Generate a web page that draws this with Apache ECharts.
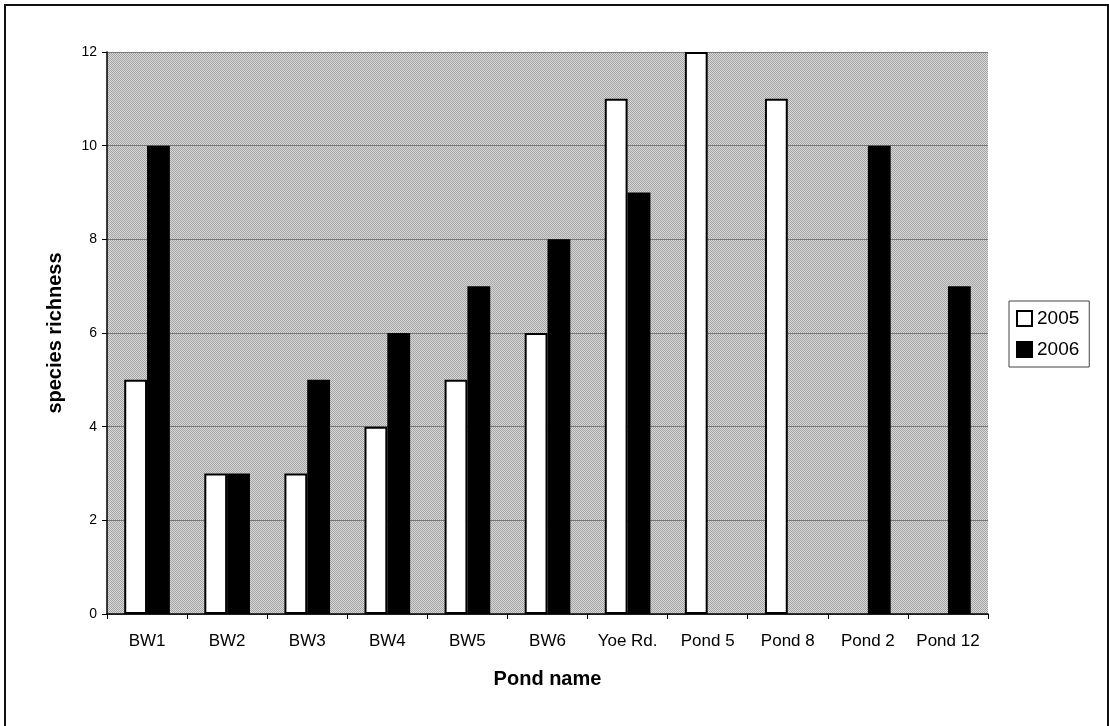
<!DOCTYPE html>
<html>
<head>
<meta charset="utf-8">
<script src="https://cdn.jsdelivr.net/npm/echarts@6/dist/echarts.min.js"></script>
<style>
  html, body { margin: 0; padding: 0; background: #fff; }
  #chart { width: 1109px; height: 726px; }
</style>
</head>
<body>
<div id="chart"></div>
<script>
// Pond names along the x axis
var ponds = ['BW1', 'BW2', 'BW3', 'BW4', 'BW5', 'BW6', 'Yoe Rd.', 'Pond 5', 'Pond 8', 'Pond 2', 'Pond 12'];
// Species richness per pond and survey year (null = not surveyed)
var richness2005 = [5, 3, 3, 4, 5, 6, 11, 12, 11, null, null];
var richness2006 = [10, 3, 5, 6, 7, 8, 9, null, null, 10, 7];
var yTicks = { min: 0, max: 12, step: 2 };

// Dotted grey fill for the plot area
function dottedFill() {
  var c = document.createElement('canvas');
  c.width = 2; c.height = 2;
  var ctx = c.getContext('2d');
  ctx.fillStyle = '#d8d8d8'; ctx.fillRect(0, 0, 2, 2);
  ctx.fillStyle = '#a4a4a4'; ctx.fillRect(0, 0, 1, 1); ctx.fillRect(1, 1, 1, 1);
  return { image: c, repeat: 'repeat' };
}

var chart = echarts.init(document.getElementById('chart'), null, { renderer: 'canvas' });
var font = 'Arial, "Liberation Sans", sans-serif';

chart.setOption({
  backgroundColor: '#ffffff',
  animation: false,
  graphic: [{
    type: 'rect',
    shape: { x: 5, y: 5, width: 1103, height: 740 },
    style: { fill: 'none', stroke: '#111', lineWidth: 2 },
    silent: true
  }],
  grid: {
    left: 107, right: 121, top: 52, bottom: 112,
    show: true,
    backgroundColor: dottedFill(),
    borderWidth: 0
  },
  legend: {
    orient: 'vertical',
    left: 1009,
    top: 301,
    padding: [8, 10, 8, 7],
    itemGap: 12,
    itemWidth: 15,
    itemHeight: 15,
    borderColor: '#444',
    borderWidth: 1,
    textStyle: { fontFamily: font, fontSize: 19, color: '#000' },
    data: [
      { name: '2005', icon: 'rect' },
      { name: '2006', icon: 'rect' }
    ]
  },
  xAxis: {
    type: 'category',
    data: ponds,
    name: 'Pond name',
    nameLocation: 'middle',
    nameGap: 55,
    nameTextStyle: { fontFamily: font, fontSize: 20, fontWeight: 'bold', color: '#000' },
    axisLine: { lineStyle: { color: '#000', width: 1.5 } },
    axisTick: { show: true, interval: 0, alignWithLabel: false, length: 5, lineStyle: { color: '#000' } },
    axisLabel: { interval: 0, fontFamily: font, fontSize: 17, color: '#000', margin: 19 },
    splitLine: { show: false }
  },
  yAxis: {
    type: 'value',
    min: yTicks.min,
    max: yTicks.max,
    interval: yTicks.step,
    name: 'species richness',
    nameLocation: 'middle',
    nameGap: 42,
    nameTextStyle: { fontFamily: font, fontSize: 20, fontWeight: 'bold', color: '#000' },
    axisLine: { show: true, lineStyle: { color: '#000', width: 1.5 } },
    axisTick: { show: true, length: 5, lineStyle: { color: '#000' } },
    axisLabel: { fontFamily: font, fontSize: 14, color: '#000', margin: 10 },
    splitLine: { show: true, lineStyle: { color: '#777', width: 1 } }
  },
  series: [
    {
      name: '2005',
      type: 'bar',
      data: richness2005,
      barGap: '0%',
      barCategoryGap: '43%',
      itemStyle: { color: '#ffffff', borderColor: '#000', borderWidth: 2 }
    },
    {
      name: '2006',
      type: 'bar',
      data: richness2006,
      barGap: '0%',
      barCategoryGap: '43%',
      itemStyle: { color: '#000000', borderColor: '#000', borderWidth: 2 }
    }
  ]
});
</script>
</body>
</html>
